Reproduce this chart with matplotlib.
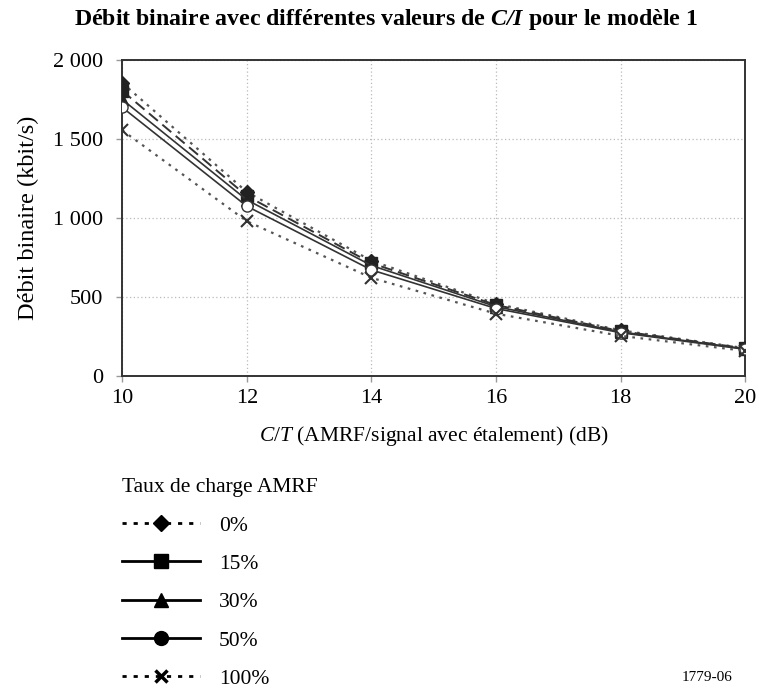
import matplotlib
matplotlib.use("Agg")
import matplotlib.pyplot as plt
from matplotlib.lines import Line2D
from matplotlib.ticker import FuncFormatter

plt.rcParams['font.family'] = ['Liberation Serif', 'DejaVu Serif']
plt.rcParams['mathtext.fontset'] = 'custom'
plt.rcParams['mathtext.it'] = 'Liberation Serif:italic'
plt.rcParams['mathtext.bf'] = 'Liberation Serif:bold:italic'
plt.rcParams['mathtext.rm'] = 'Liberation Serif'

ci = [10, 12, 14, 16, 18, 20]
load_labels = ["0%", "15%", "30%", "50%", "100%"]
rate_0 = [1855, 1165, 730, 458, 290, 177]
rate_15 = [1805, 1140, 715, 450, 285, 176]
rate_30 = [1750, 1115, 700, 440, 280, 173]
rate_50 = [1700, 1075, 672, 428, 275, 170]
rate_100 = [1555, 980, 622, 395, 255, 160]
series = [rate_0, rate_15, rate_30, rate_50, rate_100]

fig = plt.figure(figsize=(7.59, 6.89), dpi=100)
ax = fig.add_axes([0.161, 0.454, 0.821, 0.459])

plot_styles = [
    dict(ls=(0, (1.2, 2.5)), marker='D', ms=7, color='#555555', lw=1.6, mfc='#222222', mec='#222222'),
    dict(ls=(0, (6, 3)), marker='s', ms=8, color='#333333', lw=1.4, mfc='#222222', mec='#222222'),
    dict(ls='-', marker='^', ms=8, color='#333333', lw=1.2, mfc='#222222', mec='#222222'),
    dict(ls='-', marker='o', ms=8, color='#333333', lw=1.2, mfc='white', mec='#333333'),
    dict(ls=(0, (1.2, 2.5)), marker='x', ms=8, color='#555555', lw=1.6, mec='#333333', mew=1.5),
]
for vals, st in zip(series, plot_styles):
    ax.plot(ci, vals, zorder=3, **st)

ax.set_xlim(10, 20)
ax.set_ylim(0, 2000)
ax.set_xticks(ci)
ax.set_yticks([0, 500, 1000, 1500, 2000])
ax.yaxis.set_major_formatter(FuncFormatter(lambda v, p: f"{int(v):,}".replace(",", " ")))
ax.grid(True, ls=(0, (1, 2)), color='#bbbbbb', lw=0.9)
ax.tick_params(labelsize=16, length=4, width=1, color='#999999')
ax.tick_params(axis='y', pad=10)
ax.tick_params(axis='x', pad=5)
for s in ax.spines.values():
    s.set_color('#333333')
    s.set_linewidth(1.4)

ax.set_ylabel("Débit binaire (kbit/s)", fontsize=17.5, labelpad=10)
ax.set_xlabel(r"$C/T$ (AMRF/signal avec étalement) (dB)", fontsize=15.5, labelpad=12)

fig.text(0.509, 0.971, r"Débit binaire avec différentes valeurs de $\mathbf{C/I}$ pour le modèle 1",
         ha='center', va='center', fontsize=17.2, fontweight='bold')

# legend
handles = [
    Line2D([], [], ls=(0, (1.5, 2.5)), marker='D', ms=8, color='black', lw=2),
    Line2D([], [], ls='-', marker='s', ms=10, color='black', lw=2),
    Line2D([], [], ls='-', marker='^', ms=10, color='black', lw=2),
    Line2D([], [], ls='-', marker='o', ms=10, color='black', lw=2),
    Line2D([], [], ls=(0, (1.5, 2.5)), marker='x', ms=9, color='black', lw=2, mew=2.5),
]
leg = fig.legend(handles, load_labels, loc='upper left', bbox_to_anchor=(0.161, 0.306),
                 title="Taux de charge AMRF", frameon=False, fontsize=15.5, title_fontsize=15.5,
                 handlelength=3.6, handletextpad=0.9, labelspacing=0.85, alignment='left',
                 borderaxespad=0, borderpad=0)

fig.text(0.965, 0.017, "1779-06", ha='right', va='center', fontsize=11)

fig.savefig("out.png", dpi=100)
